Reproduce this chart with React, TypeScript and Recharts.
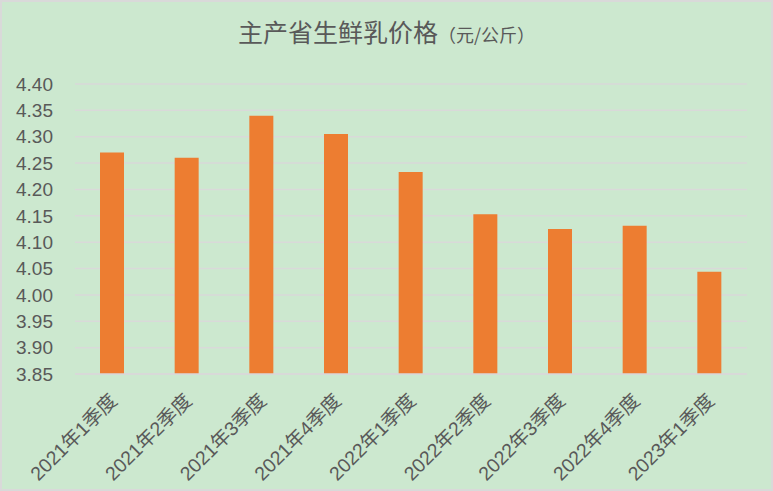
import { Bar, BarChart, CartesianGrid, XAxis, YAxis } from "recharts";

const quarters = [
  "2021年1季度",
  "2021年2季度",
  "2021年3季度",
  "2021年4季度",
  "2022年1季度",
  "2022年2季度",
  "2022年3季度",
  "2022年4季度",
  "2023年1季度",
];

const prices = [4.27, 4.26, 4.34, 4.305, 4.233, 4.153, 4.125, 4.131, 4.044];

const yTicks = [3.85, 3.9, 3.95, 4.0, 4.05, 4.1, 4.15, 4.2, 4.25, 4.3, 4.35, 4.4];

const data = quarters.map((q, i) => ({ name: q, value: prices[i] }));

const FONT = "'Liberation Sans', 'Noto Sans CJK SC', sans-serif";
const TEXT = "#595959";

const QuarterTick = ({ x, y, payload }: any) => (
  <text
    x={x + 1}
    y={y + 15}
    transform={`rotate(-45, ${x + 1}, ${y + 15})`}
    textAnchor="end"
    dominantBaseline="central"
    fill={TEXT}
    fontSize={19.5}
    fontFamily={FONT}
  >
    {payload.value}
  </text>
);

export default function App() {
  return (
    <div
      style={{
        position: "absolute",
        left: 0,
        top: 0,
        width: 773,
        height: 491,
        background: "#CCE8CF",
        border: "2px solid #D9D9D9",
        boxSizing: "border-box",
      }}
    >
      <div
        style={{
          position: "absolute",
          top: 11,
          left: 0,
          width: "100%",
          textAlign: "center",
          color: TEXT,
          fontFamily: "'Noto Sans CJK SC', sans-serif",
        }}
      >
        <span style={{ fontSize: 25 }}>主产省生鲜乳价格</span>
        <span style={{ fontSize: 18 }}>（元/公斤）</span>
      </div>
      <BarChart
        width={769}
        height={487}
        data={data}
        margin={{ top: 82, right: 24, bottom: 0, left: 0 }}
        style={{ position: "absolute", left: 0, top: 0 }}
      >
        <CartesianGrid vertical={false} stroke="#D9D9D9" strokeWidth={1.5} />
        <XAxis
          dataKey="name"
          axisLine={{ stroke: "#D9D9D9", strokeWidth: 1.5 }}
          tickLine={false}
          interval={0}
          height={115}
          tick={<QuarterTick />}
        />
        <YAxis
          domain={[3.85, 4.4]}
          ticks={yTicks}
          interval={0}
          allowDataOverflow
          axisLine={false}
          tickLine={false}
          tickSize={0}
          tickMargin={22}
          width={73}
          tickFormatter={(v: number) => v.toFixed(2)}
          tick={{ fill: TEXT, fontSize: 19, fontFamily: FONT }}
        />
        <Bar dataKey="value" fill="#ED7D31" barSize={24} isAnimationActive={false} />
      </BarChart>
    </div>
  );
}
